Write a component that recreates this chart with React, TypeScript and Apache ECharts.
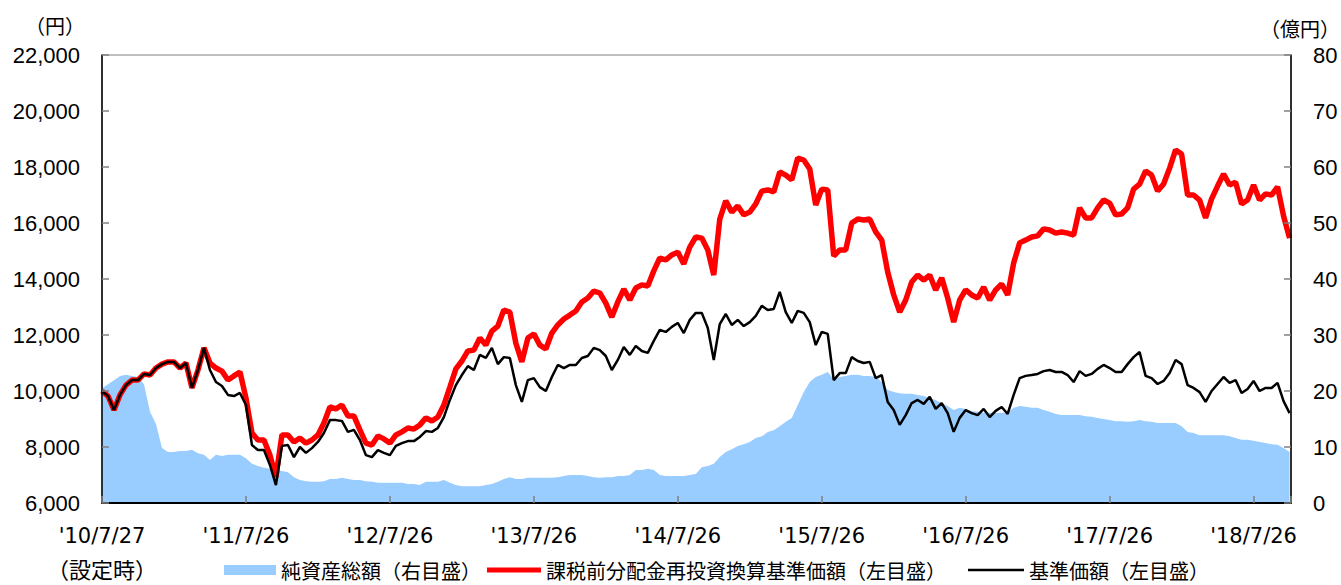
import React, { useEffect, useRef } from 'react';
import * as echarts from 'echarts';

// x-axis tick labels (one per year since launch)
const tickLabels = ["'10/7/27", "'11/7/26", "'12/7/26", "'13/7/26", "'14/7/26", "'15/7/26", "'16/7/26", "'17/7/26", "'18/7/26"];
const launchNote = '（設定時）';

const NAME_ASSETS = '純資産総額（右目盛）';
const NAME_ADJ = '課税前分配金再投資換算基準価額（左目盛）';
const NAME_NAV = '基準価額（左目盛）';

// samples every half month (1/24 year) from launch
const STEP = 1 / 24;

// 課税前分配金再投資換算基準価額 (円)
const navAdj = [
  10000, 9820, 9320, 9860, 10210, 10390, 10390, 10610, 10570, 10820,
  10960, 11040, 11040, 10820, 11000, 10110, 10750, 11540, 11000, 10820,
  10710, 10390, 10540, 10680, 9750, 8500, 8250, 8250, 7710, 6930,
  8430, 8430, 8180, 8320, 8140, 8250, 8430, 8860, 9430, 9360,
  9500, 9110, 9110, 8610, 8140, 8070, 8390, 8290, 8140, 8430,
  8540, 8680, 8640, 8790, 9040, 8930, 9070, 9500, 10140, 10790,
  11070, 11430, 11460, 11890, 11640, 12140, 12320, 12890, 12820, 11710,
  11040, 11890, 12040, 11640, 11500, 12070, 12360, 12570, 12710, 12860,
  13180, 13320, 13570, 13500, 13140, 12640, 13180, 13640, 13250, 13680,
  13790, 13750, 14290, 14750, 14680, 14860, 14960, 14540, 15140, 15500,
  15460, 15040, 14140, 16140, 16790, 16390, 16610, 16290, 16390, 16680,
  17140, 17180, 17110, 17820, 17710, 17540, 18320, 18250, 17930, 16640,
  17210, 17180, 14820, 15040, 15040, 16000, 16140, 16110, 16140, 15680,
  15390, 14250, 13430, 12820, 13250, 13890, 14140, 13960, 14140, 13610,
  14040, 13320, 12460, 13250, 13610, 13430, 13320, 13710, 13250, 13610,
  13820, 13430, 14570, 15290, 15390, 15500, 15540, 15790, 15750, 15640,
  15680, 15640, 15570, 16540, 16180, 16180, 16540, 16820, 16710, 16290,
  16320, 16540, 17210, 17390, 17860, 17710, 17140, 17390, 17960, 18610,
  18460, 17000, 17000, 16820, 16180, 16860, 17320, 17750, 17360, 17460,
  16680, 16820, 17360, 16820, 17040, 17000, 17290, 16250, 15460,
];

// 基準価額 (円)
const nav = [
  10000, 9820, 9320, 9860, 10210, 10390, 10390, 10610, 10570, 10820,
  10960, 11040, 11040, 10820, 11000, 10110, 10750, 11540, 10750, 10320,
  10180, 9860, 9820, 9930, 9500, 8070, 7890, 7890, 7360, 6640,
  8040, 8070, 7640, 8000, 7790, 7960, 8180, 8500, 8960, 8960,
  8930, 8540, 8610, 8250, 7710, 7640, 7890, 7790, 7710, 8040,
  8140, 8210, 8210, 8360, 8570, 8540, 8680, 9070, 9680, 10210,
  10570, 10890, 10750, 11290, 11180, 11540, 10960, 11210, 11180, 10210,
  9610, 10390, 10460, 10140, 10000, 10500, 10930, 10820, 10930, 10930,
  11180, 11250, 11540, 11460, 11250, 10750, 11110, 11570, 11290, 11610,
  11430, 11360, 11790, 12180, 12110, 12290, 12430, 12070, 12540, 12790,
  12790, 12250, 11110, 12390, 12750, 12360, 12540, 12320, 12460, 12680,
  13040, 12890, 12930, 13540, 12820, 12430, 12860, 12790, 12460, 11640,
  12110, 12040, 10390, 10640, 10640, 11210, 11070, 11000, 11040, 10460,
  10570, 9610, 9320, 8790, 9140, 9570, 9680, 9540, 9790, 9360,
  9570, 9210, 8540, 9040, 9320, 9210, 9140, 9360, 9070, 9290,
  9430, 9180, 9860, 10460, 10540, 10570, 10610, 10710, 10750, 10680,
  10680, 10570, 10320, 10710, 10540, 10610, 10790, 10930, 10820, 10680,
  10680, 10960, 11210, 11390, 10540, 10460, 10250, 10360, 10640, 11110,
  10960, 10210, 10110, 9960, 9610, 10000, 10250, 10500, 10290, 10390,
  9930, 10070, 10360, 10000, 10110, 10110, 10290, 9640, 9210,
];

// 純資産総額 (億円)
const assets = [
  20.5, 21.2, 21.9, 22.7, 22.9, 22.7, 22.5, 21.2, 16.3, 14.1,
  9.8, 9.1, 9.1, 9.3, 9.3, 9.5, 8.9, 8.6, 7.7, 8.6,
  8.4, 8.6, 8.6, 8.6, 8.0, 7.0, 6.6, 6.3, 6.1, 5.9,
  5.7, 5.5, 4.6, 4.1, 3.9, 3.8, 3.8, 3.9, 4.3, 4.3,
  4.5, 4.3, 4.1, 4.1, 3.9, 3.8, 3.6, 3.6, 3.6, 3.6,
  3.6, 3.4, 3.4, 3.2, 3.8, 3.8, 3.8, 4.1, 3.6, 3.2,
  3.0, 3.0, 3.0, 3.0, 3.2, 3.4, 3.8, 4.3, 4.6, 4.3,
  4.3, 4.5, 4.5, 4.5, 4.5, 4.5, 4.6, 4.8, 5.0, 5.0,
  5.0, 4.8, 4.6, 4.5, 4.6, 4.6, 4.8, 4.8, 5.0, 5.9,
  5.9, 6.1, 5.9, 5.0, 4.8, 4.8, 4.8, 4.8, 5.0, 5.2,
  6.4, 6.6, 7.0, 8.2, 9.1, 9.6, 10.2, 10.5, 10.9, 11.6,
  11.9, 12.7, 13.0, 13.7, 14.5, 15.2, 17.5, 19.8, 21.6, 22.5,
  22.9, 23.4, 22.1, 22.5, 22.7, 22.9, 22.9, 22.7, 22.7, 22.5,
  21.6, 20.2, 19.8, 19.6, 19.5, 19.5, 19.3, 19.1, 18.7, 18.4,
  17.8, 17.3, 16.6, 17.0, 16.8, 16.4, 16.3, 16.1, 16.1, 16.1,
  16.1, 16.1, 17.0, 17.3, 17.2, 17.0, 17.0, 16.6, 16.3, 15.9,
  15.7, 15.7, 15.7, 15.7, 15.5, 15.4, 15.2, 15.0, 14.8, 14.6,
  14.6, 14.5, 14.6, 14.8, 14.6, 14.5, 14.3, 14.3, 14.3, 14.3,
  13.7, 12.7, 12.5, 12.1, 12.1, 12.1, 12.1, 12.1, 11.9, 11.6,
  11.3, 11.3, 11.1, 10.9, 10.7, 10.5, 10.4, 9.8, 9.1,
];

const JP = 'Noto Sans CJK JP';

export default function App() {
  const ref = useRef<HTMLDivElement>(null);

  useEffect(() => {
    if (!ref.current) return;
    const chart = echarts.init(ref.current, null, { renderer: 'svg' });
    const toPts = (arr: number[]) => arr.map((v, i) => [i * STEP, v]);

    const legendText = { fontSize: 20, lineHeight: 22, fontFamily: JP, color: '#000' };
    const LEGEND_TOP = 559;

    chart.setOption({
      animation: false,
      backgroundColor: '#ffffff',
      grid: {
        left: 102, right: 50, top: 55, bottom: 82,
        show: true, borderColor: '#808080', borderWidth: 1,
        outerBoundsMode: 'none',
      },
      graphic: [
        { type: 'text', x: 55, y: 25, style: { text: '（円）', fontSize: 20, fontFamily: JP, fill: '#000', align: 'center', verticalAlign: 'middle' } },
        { type: 'text', x: 1300, y: 28, style: { text: '（億円）', fontSize: 20, fontFamily: JP, fill: '#000', align: 'center', verticalAlign: 'middle' } },
      ],
      legend: [
        {
          left: 224, top: LEGEND_TOP, padding: 0, itemWidth: 52, itemHeight: 10, selectedMode: false,
          data: [{ name: NAME_ASSETS, icon: 'rect', itemStyle: { color: '#99ccff' } }],
          textStyle: legendText,
        },
        {
          left: 487, top: LEGEND_TOP, padding: 0, itemWidth: 54, itemHeight: 5, selectedMode: false,
          data: [{ name: NAME_ADJ, icon: 'rect', itemStyle: { color: '#ff0000' } }],
          textStyle: legendText,
        },
        {
          left: 968, top: LEGEND_TOP, padding: 0, itemWidth: 56, itemHeight: 2.5, selectedMode: false,
          data: [{ name: NAME_NAV, icon: 'rect', itemStyle: { color: '#000000' } }],
          textStyle: legendText,
        },
      ],
      xAxis: {
        type: 'value', min: 0, max: 8.26, interval: 1, z: 5,
        axisLine: { show: true, lineStyle: { color: '#000', width: 2 } },
        axisTick: { show: true, inside: true, length: 7, lineStyle: { color: '#808080', width: 1.5 } },
        splitLine: { show: false },
        axisLabel: {
          margin: 16,
          formatter: (value: number) => {
            const k = Math.round(value);
            if (Math.abs(value - k) > 1e-6 || k < 0 || k >= tickLabels.length) return '';
            return k === 0 ? `{d|${tickLabels[0]}}\n{j|${launchNote}}` : `{d|${tickLabels[k]}}`;
          },
          rich: {
            d: { fontFamily: 'DejaVu Sans', fontSize: 21, lineHeight: 34, color: '#000' },
            j: { fontFamily: JP, fontSize: 22, lineHeight: 30, color: '#000' },
          },
        },
      },
      yAxis: [
        {
          type: 'value', position: 'left', min: 6000, max: 22000, interval: 2000, z: 5,
          axisLine: { show: true, lineStyle: { color: '#000', width: 1.5 } },
          axisTick: { show: true, inside: true, length: 7, lineStyle: { color: '#808080', width: 1.5 } },
          splitLine: { show: false },
          axisLabel: {
            margin: 22, fontSize: 22, fontFamily: 'Liberation Sans', color: '#000',
            formatter: (v: number) => v.toLocaleString('en-US'),
          },
        },
        {
          type: 'value', position: 'right', min: 0, max: 80, interval: 10, z: 5,
          axisLine: { show: true, lineStyle: { color: '#000', width: 1.5 } },
          axisTick: { show: true, inside: true, length: 7, lineStyle: { color: '#808080', width: 1.5 } },
          splitLine: { show: false },
          axisLabel: { margin: 22, fontSize: 22, fontFamily: 'Liberation Sans', color: '#000' },
        },
      ],
      series: [
        {
          name: NAME_ASSETS, type: 'line', yAxisIndex: 1, data: toPts(assets),
          symbol: 'none', showSymbol: false, z: 2,
          lineStyle: { width: 0, color: '#99ccff' },
          itemStyle: { color: '#99ccff' },
          areaStyle: { color: '#99ccff', opacity: 1 },
        },
        {
          name: NAME_ADJ, type: 'line', yAxisIndex: 0, data: toPts(navAdj),
          symbol: 'none', showSymbol: false, z: 3,
          lineStyle: { width: 5.5, color: '#ff0000' },
          itemStyle: { color: '#ff0000' },
        },
        {
          name: NAME_NAV, type: 'line', yAxisIndex: 0, data: toPts(nav),
          symbol: 'none', showSymbol: false, z: 4,
          lineStyle: { width: 2.5, color: '#000000' },
          itemStyle: { color: '#000000' },
        },
      ],
    });

    return () => chart.dispose();
  }, []);

  return (
    <div
      ref={ref}
      style={{ position: 'fixed', left: 0, top: 0, width: 1341, height: 585, background: '#fff' }}
    />
  );
}
